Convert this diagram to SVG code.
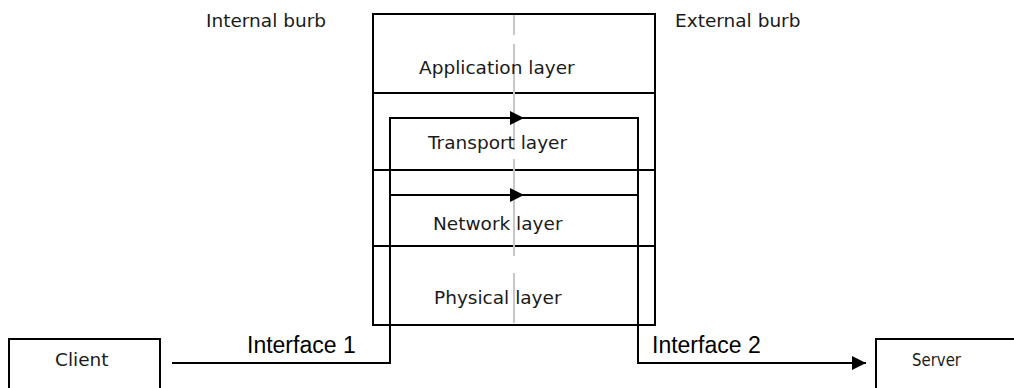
<svg xmlns="http://www.w3.org/2000/svg" width="1014" height="388" viewBox="0 0 1014 388">
<defs>
<style>
.ln{stroke:#000;stroke-width:2;fill:none}
.box{stroke:#000;stroke-width:2;fill:#fff}
.dash{stroke:#c8c8c8;stroke-width:2;fill:none}
.t{font-family:"DejaVu Sans",Verdana,sans-serif;font-size:18.5px;fill:#1a1a1a}
.ti{font-family:"Liberation Sans",Arial,sans-serif;font-size:23px;fill:#000}
</style>
<marker id="ah" markerWidth="14" markerHeight="14" refX="14" refY="7" orient="auto" markerUnits="userSpaceOnUse">
<path d="M0,0 L14,7 L0,14 Z" fill="#000"/>
</marker>
</defs>
<rect width="1014" height="388" fill="#fff"/>
<g id="labels-burb">
<text class="t" x="206" y="27">Internal burb</text>
<text class="t" x="675" y="27">External burb</text>
</g>
<g id="stack">
<rect class="box" x="373" y="14" width="282" height="311"/>
<line class="ln" x1="373" y1="93" x2="655" y2="93"/>
<line class="ln" x1="373" y1="170" x2="655" y2="170"/>
<line class="ln" x1="373" y1="246" x2="655" y2="246"/>
</g>
<g id="divider">
<line class="dash" x1="514" y1="15" x2="514" y2="35"/>
<line class="dash" x1="514" y1="44" x2="514" y2="150"/>
<line class="dash" x1="514" y1="159" x2="514" y2="256"/>
<line class="dash" x1="514" y1="273" x2="514" y2="323"/>
</g>
<g id="application-layer"><text class="t" x="419" y="74">Application layer</text></g>
<g id="transport-layer"><text class="t" x="428" y="149">Transport layer</text></g>
<g id="network-layer"><text class="t" x="433" y="230">Network layer</text></g>
<g id="physical-layer"><text class="t" x="434" y="304">Physical layer</text></g>
<g id="client">
<rect class="box" x="9" y="339" width="151" height="60"/>
<text class="t" x="55" y="366">Client</text>
</g>
<g id="server">
<rect class="box" x="876" y="339" width="150" height="60"/>
<text class="t" x="912" y="366" style="font-size:17px" textLength="49" lengthAdjust="spacingAndGlyphs">Server</text>
</g>
<g id="connectors">
<polyline class="ln" points="172,363 390,363 390,118 638,118 638,363 866,363" marker-end="url(#ah)"/>
<line class="ln" x1="390" y1="118" x2="524" y2="118" marker-end="url(#ah)"/>
<line class="ln" x1="390" y1="195" x2="524" y2="195" marker-end="url(#ah)"/>
<line class="ln" x1="520" y1="195" x2="638" y2="195"/>
<line class="ln" x1="520" y1="118" x2="638" y2="118"/>
<text class="ti" x="247" y="353">Interface 1</text>
<text class="ti" x="652" y="353">Interface 2</text>
</g>
</svg>
